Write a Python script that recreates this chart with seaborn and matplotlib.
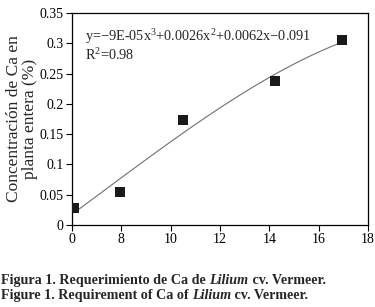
import matplotlib
matplotlib.use("Agg")
import matplotlib.pyplot as plt
import seaborn as sns
import pandas as pd

# Data (x in plot units; first tick labelled "0")
dias = [6.08, 7.95, 10.5, 14.25, 16.95]
ca = [0.028, 0.055, 0.173, 0.238, 0.305]
xticks = [6, 8, 10, 12, 14, 16, 18]
xticklabels = ["0", "8", "10", "12", "14", "16", "18"]
yticks = [0, 0.05, 0.1, 0.15, 0.2, 0.25, 0.3, 0.35]
yticklabels = ["0", "0.05", "0.1", "0.15", "0.2", "0.25", "0.3", "0.35"]
ecuacion = "y=−9E-05x$^3$+0.0026x$^2$+0.0062x−0.091"
r2 = "R$^2$=0.98"
ylabel = "Concentración de Ca en\nplanta entera (%)"
cap1 = [("Figura 1. Requerimiento de Ca de ", "normal"), ("Lilium", "italic"), (" cv. Vermeer.", "normal")]
cap2 = [("Figure 1. Requirement of Ca of ", "normal"), ("Lilium", "italic"), (" cv. Vermeer.", "normal")]

df = pd.DataFrame({"dias": dias, "ca": ca})

sns.set_theme(style="white")
plt.rcParams["font.family"] = ["Liberation Serif", "DejaVu Serif"]
plt.rcParams["mathtext.fontset"] = "custom"
plt.rcParams["mathtext.rm"] = "Liberation Serif"

fig = plt.figure(figsize=(3.75, 3.07), dpi=100)
ax = fig.add_axes([0.192, 0.267, 0.789, 0.691])

sns.regplot(data=df, x="dias", y="ca", order=3, ci=None, ax=ax,
            scatter=False, line_kws=dict(color="#707070", lw=0.8))
sns.scatterplot(data=df, x="dias", y="ca", ax=ax, marker="s", s=58,
                color="#1a1a1a", edgecolor="#1a1a1a", linewidth=0, zorder=3)

ax.set_xlim(6, 18)
ax.set_ylim(0, 0.35)
ax.set_xticks(xticks)
ax.set_xticklabels(xticklabels)
ax.set_yticks(yticks)
ax.set_yticklabels(yticklabels)
ax.set_xlabel("")
ax.set_ylabel(ylabel, fontsize=12.5, linespacing=1.05, labelpad=1)
ax.tick_params(axis="both", which="both", direction="out", length=4, width=0.8,
               labelsize=10, colors="black", bottom=True, left=True, pad=2)
for s in ax.spines.values():
    s.set_color("black")
    s.set_linewidth(0.9)

ax.text(0.045, 0.935, ecuacion + "\n" + r2, transform=ax.transAxes, fontsize=10.3,
        va="top", ha="left", linespacing=1.0)

# Caption with mixed styles, fitted to the reference width
fig.canvas.draw()
renderer = fig.canvas.get_renderer()

def caption(parts, x0, y0, target_px, base=9.0):
    def draw(size):
        arts = []
        x = x0
        for txt, style in parts:
            t = fig.text(x, y0, txt, fontsize=size, fontweight="bold", fontstyle=style,
                         va="baseline", ha="left", transform=fig.transFigure)
            bb = t.get_window_extent(renderer)
            x += bb.width / fig.bbox.width
            arts.append(t)
        return arts, (x - x0) * fig.bbox.width
    arts, w = draw(base)
    for a in arts:
        a.remove()
    draw(base * target_px / w)

caption(cap1, 0.003, 1 - 284 / 307, 324)
caption(cap2, 0.003, 1 - 299 / 307, 306)

fig.savefig("out.png", dpi=100)
